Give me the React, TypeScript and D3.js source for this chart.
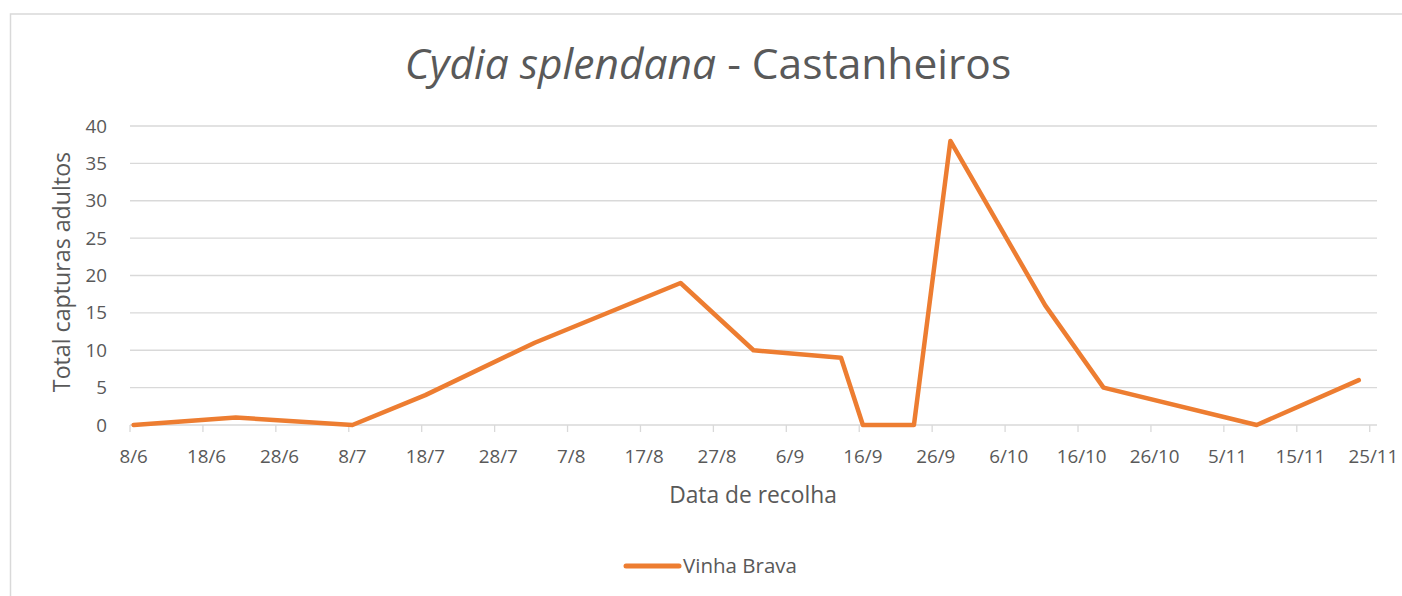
import React from "react";
import * as d3 from "d3";

const dates: string[] = [
  "2019-06-08", "2019-06-22", "2019-07-08", "2019-07-18", "2019-08-02",
  "2019-08-22", "2019-09-01", "2019-09-13", "2019-09-16", "2019-09-23",
  "2019-09-28", "2019-10-11", "2019-10-19", "2019-11-09", "2019-11-23",
];
const vinhaBrava: number[] = [0, 1, 0, 4, 11, 19, 10, 9, 0, 0, 38, 16, 5, 0, 6];
const yTicks: number[] = [0, 5, 10, 15, 20, 25, 30, 35, 40];
const xTickLabels: string[] = [
  "8/6", "18/6", "28/6", "8/7", "18/7", "28/7", "7/8", "17/8", "27/8",
  "6/9", "16/9", "26/9", "6/10", "16/10", "26/10", "5/11", "15/11", "25/11",
];
const seriesName = "Vinha Brava";
const titleItalic = "Cydia splendana";
const titleRest = " - Castanheiros";
const yAxisTitle = "Total capturas adultos";
const xAxisTitle = "Data de recolha";

const W = 1402;
const H = 596;
const FONT = "'Open Sans', Lato, sans-serif";
const TEXT = "#595959";
const GRID = "#d9d9d9";
const ORANGE = "#ED7D31";

const parse = d3.utcParse("%Y-%m-%d");
const DAY = 86400000;

export default function App() {
  const start = parse(dates[0])!;
  const end = new Date(parse("2019-11-25")!.getTime() + DAY);
  const x = d3.scaleUtc().domain([start, end]).range([130, 1377]);
  const y = d3.scaleLinear().domain([0, 40]).range([425, 126]);

  const tickDates = xTickLabels.map((_, i) => d3.utcDay.offset(start, i * 10));

  const pts = dates.map((d, i) => ({ t: new Date(parse(d)!.getTime() + DAY / 2), v: vinhaBrava[i] }));
  const line = d3
    .line<{ t: Date; v: number }>()
    .x((d) => x(d.t))
    .y((d) => y(d.v));

  const [x0, x1] = x.range();

  return (
    <svg width={W} height={H} style={{ position: "absolute", left: 0, top: 0, background: "#fff" }}>
      <rect x={10.5} y={14} width={W} height={H} fill="#fff" stroke={GRID} strokeWidth={1.5} />
      <text x={708} y={79} textAnchor="middle" fontFamily={FONT} fontSize={42.5} fill={TEXT}>
        <tspan fontStyle="italic">{titleItalic}</tspan>
        <tspan>{titleRest}</tspan>
      </text>

      {yTicks.map((t) => (
        <g key={t}>
          <line x1={x0} x2={x1} y1={y(t)} y2={y(t)} stroke={GRID} strokeWidth={1.3} />
          <text x={107} y={y(t)} dy="0.35em" textAnchor="end" fontFamily={FONT} fontSize={18.8} fill={TEXT}>
            {t}
          </text>
        </g>
      ))}

      {tickDates.map((d, i) => (
        <g key={i}>
          <line x1={x(d)} x2={x(d)} y1={y(0)} y2={y(0) + 7} stroke={GRID} strokeWidth={1.3} />
          <text
            x={x(new Date(d.getTime() + DAY / 2))}
            y={456}
            dy="0.35em"
            textAnchor="middle"
            fontFamily={FONT}
            fontSize={18.8}
            fill={TEXT}
          >
            {xTickLabels[i]}
          </text>
        </g>
      ))}

      <path d={line(pts) || ""} fill="none" stroke={ORANGE} strokeWidth={4.5} strokeLinejoin="round" strokeLinecap="round" />

      <text
        transform={`translate(62,272) rotate(-90)`}
        textAnchor="middle"
        dy="0.35em"
        fontFamily={FONT}
        fontSize={23.2}
        fill={TEXT}
      >
        {yAxisTitle}
      </text>
      <text x={753} y={495} dy="0.35em" textAnchor="middle" fontFamily={FONT} fontSize={22.8} fill={TEXT}>
        {xAxisTitle}
      </text>

      <line x1={626} x2={679} y1={566} y2={566} stroke={ORANGE} strokeWidth={5} strokeLinecap="round" />
      <text x={683} y={566} dy="0.35em" fontFamily={FONT} fontSize={20.5} fill={TEXT}>
        {seriesName}
      </text>
    </svg>
  );
}
